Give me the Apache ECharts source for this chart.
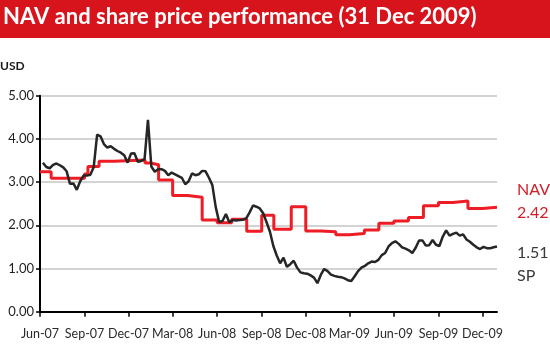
<!DOCTYPE html>
<html>
<head>
<meta charset="utf-8">
<script src="https://cdn.jsdelivr.net/npm/echarts@6/dist/echarts.min.js"></script>
<style>
html,body{margin:0;padding:0;background:#fff;}
#c{width:550px;height:364px;}
</style>
</head>
<body>
<div id="c"></div>
<script>
// ---- data ----
const titleText = 'NAV and share price performance (31 Dec 2009)';
const unitLabel = 'USD';
const xMin = '2007-06-01';
const xMax = '2009-12-31';
const xTickDates = ['2007-06-01','2007-09-01','2007-12-01','2008-03-01','2008-06-01','2008-09-01','2008-12-01','2009-03-01','2009-06-01','2009-09-01','2009-12-01'];
const xTickLabels = ['Jun-07','Sep-07','Dec-07','Mar-08','Jun-08','Sep-08','Dec-08','Mar-09','Jun-09','Sep-09','Dec-09'];
const yMin = 0, yMax = 5, yStep = 1;

// share price, weekly from spStart
const spStart = '2007-06-07';
const spValues = [
3.45,3.35,3.32,3.40,3.43,3.39,3.34,3.25,2.96,2.97,
2.82,3.02,3.15,3.15,3.17,3.35,4.10,4.06,3.88,3.80,
3.83,3.77,3.72,3.68,3.62,3.45,3.66,3.67,3.47,3.49,
3.53,4.44,3.36,3.24,3.30,3.30,3.26,3.16,3.22,3.18,
3.14,3.10,2.95,3.02,3.20,3.16,3.18,3.26,3.25,3.10,
2.93,2.42,2.08,2.10,2.26,2.07,2.12,2.11,2.12,2.13,
2.16,2.30,2.46,2.43,2.39,2.28,2.07,1.85,1.52,1.30,
1.12,1.25,1.04,1.10,1.18,1.02,0.91,0.89,0.88,0.84,
0.79,0.66,0.85,0.99,0.94,0.86,0.83,0.81,0.80,0.77,
0.73,0.71,0.82,0.94,1.02,1.06,1.12,1.16,1.15,1.20,
1.31,1.36,1.51,1.59,1.63,1.57,1.49,1.46,1.42,1.36,
1.48,1.65,1.65,1.53,1.54,1.66,1.55,1.52,1.74,1.88,
1.76,1.80,1.83,1.76,1.79,1.67,1.62,1.55,1.49,1.45,
1.50,1.47,1.47,1.49,1.51
];

// NAV: value holds from date until next date
const navDates = ['2007-06-01','2007-06-24','2007-09-01','2007-09-08','2007-10-01','2007-11-01','2008-01-04','2008-01-15','2008-02-01','2008-03-01','2008-04-01','2008-05-01','2008-06-01','2008-07-01','2008-08-01','2008-09-01','2008-09-26','2008-11-01','2008-12-01','2009-01-01','2009-02-01','2009-03-01','2009-04-01','2009-05-01','2009-06-01','2009-07-01','2009-08-01','2009-09-01','2009-10-01','2009-11-01','2009-12-01','2009-12-31'];
const navValues = [3.24,3.09,3.19,3.36,3.48,3.51,3.44,3.40,3.05,2.69,2.65,2.12,2.06,2.14,1.86,2.23,1.91,2.43,1.87,1.85,1.78,1.81,1.89,2.05,2.10,2.18,2.45,2.53,2.56,2.39,2.42,2.42];

const navName = 'NAV', spName = 'SP';

// ---- build (x = days since xMin) ----
const DAY = 86400000;
function utc(s){ const p = s.split('-').map(Number); return Date.UTC(p[0], p[1]-1, p[2]); }
const t0 = utc(xMin);
const dayOf = s => Math.round((utc(s) - t0) / DAY);
const spStartDay = dayOf(spStart);
const spData = spValues.map((v,i) => [spStartDay + 7*i, v]);
const navData = navValues.map((v,i) => [dayOf(navDates[i]), v]);
const tickDays = xTickDates.map(dayOf);

const FONT = 'Lato';
const chart = echarts.init(document.getElementById('c'), null, {renderer:'canvas'});
chart.setOption({
  animation: false,
  textStyle: {fontFamily: FONT},
  graphic: [
    {type:'rect', left:0, top:0, shape:{width:550, height:38}, style:{fill:'#d7141c'}, z:10},
    {type:'text', left:3, top:6, style:{text:titleText, fill:'#ffffff', font:'bold 22px Lato'}, z:11},
    {type:'text', left:0, top:60, style:{text:unitLabel, fill:'#1a1a1a', font:'bold 12px Lato'}, z:11}
  ],
  grid: {left:40, right:53, top:95.7, bottom:52.3, containLabel:false},
  xAxis: {
    type:'value',
    min: 0, max: dayOf(xMax),
    axisLine:{show:true, lineStyle:{color:'#000', width:2}},
    axisTick:{show:true, length:5, lineStyle:{color:'#000', width:1.5}, customValues: tickDays},
    axisLabel:{customValues: tickDays, margin:16, color:'#2a2a2a', fontSize:12.5, fontFamily:FONT,
      formatter: (v) => { const i = tickDays.indexOf(v); return i >= 0 ? xTickLabels[i] : ''; }},
    splitLine:{show:false}
  },
  yAxis: {
    type:'value', min:yMin, max:yMax, interval:yStep,
    axisLine:{show:true, lineStyle:{color:'#000', width:2}},
    axisTick:{show:true, length:4, lineStyle:{color:'#000', width:1.5}},
    axisLabel:{margin:6, color:'#1f1f1f', fontSize:13, fontFamily:FONT, formatter: v => v.toFixed(2)},
    splitLine:{show:true, lineStyle:{color:'#c4c4c4', width:1.5}}
  },
  series: [
    {
      name: navName, type:'line', step:'end', data: navData, showSymbol:false,
      lineStyle:{color:'#ee1c24', width:3}, itemStyle:{color:'#ee1c24'},
      endLabel:{show:true, formatter: p => navName + '\n' + p.value[1].toFixed(2), color:'#d2202a', fontSize:16, fontFamily:FONT, lineHeight:23, offset:[12,-5.5]},
      z:2
    },
    {
      name: spName, type:'line', data: spData, showSymbol:false,
      lineStyle:{color:'#262626', width:2.5}, itemStyle:{color:'#262626'},
      endLabel:{show:true, formatter: p => p.value[1].toFixed(2) + '\n' + spName, color:'#3a3a3a', fontSize:16, fontFamily:FONT, lineHeight:23, offset:[12,17.5]},
      z:3
    }
  ]
});
</script>
</body>
</html>
